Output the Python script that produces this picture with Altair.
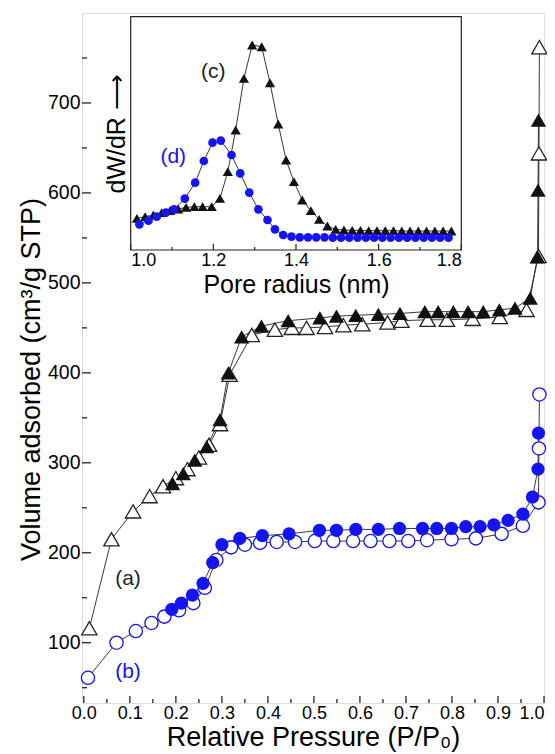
import altair as alt
import pandas as pd

# ---------------- main isotherms ----------------
# (a) open triangles (adsorption)
a_p = [0.012, 0.060, 0.107, 0.143, 0.172, 0.200, 0.225, 0.250, 0.272, 0.296, 0.317, 0.365, 0.415,
       0.452, 0.484, 0.524, 0.564, 0.605, 0.660, 0.690, 0.747, 0.789, 0.845, 0.904, 0.962, 0.988, 0.989, 0.990]
a_v = [116, 215, 246, 263, 274, 283, 293, 306, 320, 343, 398, 442, 448,
       450, 450, 451, 453, 454, 456, 458, 459, 459, 460, 462, 470, 530, 644, 762]
# (a) filled triangles (desorption)
af_p = [0.193, 0.216, 0.241, 0.267, 0.296, 0.314, 0.343, 0.386, 0.444, 0.513, 0.549, 0.591, 0.640,
        0.687, 0.741, 0.770, 0.803, 0.835, 0.868, 0.903, 0.937, 0.970, 0.986, 0.987, 0.988]
af_v = [277, 288, 303, 318, 348, 400, 440, 452, 458, 461, 463, 464, 465,
        466, 468, 468, 468, 468, 468, 470, 472, 483, 529, 603, 681]
# (b) open circles (adsorption)
b_p = [0.009, 0.071, 0.113, 0.147, 0.175, 0.207, 0.238, 0.263, 0.288, 0.320, 0.350, 0.383, 0.419,
       0.459, 0.502, 0.542, 0.585, 0.623, 0.664, 0.705, 0.746, 0.799, 0.852, 0.908, 0.954, 0.988, 0.989, 0.990]
b_v = [61, 100, 113, 122, 129, 136, 144, 161, 192, 206, 209, 211, 212,
       212, 213, 213, 213, 213, 213, 213, 214, 215, 216, 221, 230, 256, 316, 376]
# (b) filled circles (desorption)
bf_p = [0.191, 0.212, 0.236, 0.259, 0.280, 0.300, 0.339, 0.388, 0.446, 0.512, 0.549, 0.591, 0.640,
        0.686, 0.736, 0.767, 0.799, 0.830, 0.861, 0.891, 0.922, 0.954, 0.975, 0.987, 0.988]
bf_v = [137, 144, 153, 166, 189, 209, 216, 219, 221, 225, 225, 226, 226,
        227, 227, 227, 227, 229, 229, 231, 236, 243, 262, 293, 333]

# ---------------- inset: pore size distribution ----------------
c_r = [1.015, 1.035, 1.055, 1.075, 1.095, 1.115, 1.134, 1.154, 1.174, 1.196, 1.216, 1.235, 1.254,
       1.274, 1.294, 1.317, 1.337, 1.357, 1.376, 1.395, 1.415, 1.436, 1.456, 1.476, 1.496, 1.516,
       1.536, 1.556, 1.576, 1.596, 1.616, 1.636, 1.656, 1.676, 1.696, 1.716, 1.736, 1.756, 1.776]
c_w = [95, 100, 105, 112, 118, 123, 128, 130, 130, 130, 155, 235, 360,
       515, 615, 610, 502, 378, 270, 205, 150, 118, 92, 72, 62, 60,
       59, 59, 58, 58, 58, 58, 57, 57, 57, 57, 57, 57, 57]
d_r = [1.021, 1.043, 1.063, 1.085, 1.105, 1.131, 1.156, 1.177, 1.198, 1.218, 1.244, 1.265, 1.287,
       1.309, 1.331, 1.349, 1.369, 1.389, 1.409, 1.429, 1.449, 1.469, 1.489, 1.509, 1.529, 1.549,
       1.569, 1.589, 1.609, 1.629, 1.649, 1.669, 1.689, 1.709, 1.729, 1.749, 1.769]
d_w = [77, 88, 100, 112, 122, 154, 202, 267, 322, 328, 285, 230, 172,
       122, 90, 62, 45, 40, 38, 38, 38, 38, 37, 37, 37, 37,
       37, 37, 37, 37, 37, 37, 37, 37, 37, 37, 37]

# ---------------- ticks / labels ----------------
x_major = [0.0, 0.1, 0.2, 0.3, 0.4, 0.5, 0.6, 0.7, 0.8, 0.9, 1.0]
x_minor = [0.05, 0.15, 0.25, 0.35, 0.45, 0.55, 0.65, 0.75, 0.85, 0.95]
y_major = [100, 200, 300, 400, 500, 600, 700]
y_minor = [50, 150, 250, 350, 450, 550, 650, 750]
in_major = [1.0, 1.2, 1.4, 1.6, 1.8]
in_minor = [1.1, 1.3, 1.5, 1.7]

main_labels = ["(a)", "(b)"]
main_label_p = [0.096, 0.096]
main_label_v = [171, 68]
main_label_col = ["#222222", "#1414f5"]
inset_labels = ["(c)", "(d)"]
inset_label_r = [1.20, 1.103]
inset_label_w = [535, 280]
inset_label_col = ["#222222", "#1414f5"]

BLUE = "#1414f5"
FONT = "Liberation Sans"
W, H = 462, 690
IN_BOTTOM, IN_TOP = 237, 3.7
IN_LEFT, IN_RIGHT = 48.7, 379.3

xs = alt.Scale(domain=[-0.004, 1.0], nice=False, zero=False)
ys = alt.Scale(domain=[33, 800], nice=False, zero=False)
x_axis = alt.Axis(values=x_major, format=".1f", ticks=False, domain=False, grid=False,
                  labelPadding=1, labelFontSize=18, title="Relative Pressure (P/P\u2080)",
                  titleFontSize=27, titlePadding=2, titleFontWeight="normal")
y_axis = alt.Axis(values=y_major, format="d", ticks=False, domain=False, grid=False,
                  labelPadding=2, labelFontSize=19.5, title="Volume adsorbed (cm\u00b3/g STP)",
                  titleFontSize=27, titlePadding=2, titleY=366, titleFontWeight="normal")
X = alt.X("P:Q", scale=xs, axis=x_axis)
Y = alt.Y("V:Q", scale=ys, axis=y_axis)


def frame(p, v):
    return pd.DataFrame({"P": p, "V": v, "i": list(range(len(p)))})


def series(p, v, shape, filled, color, size):
    df = frame(p, v)
    base = alt.Chart(df)
    line = base.mark_line(color="#222222", strokeWidth=0.9).encode(x=X, y=Y, order="i:Q")
    if filled:
        pts = base.mark_point(shape=shape, filled=True, color=color, size=size, opacity=1)
    else:
        pts = base.mark_point(shape=shape, filled=True, fill="white", stroke=color,
                              strokeWidth=1.3, size=size, opacity=1)
    return line, pts.encode(x=X, y=Y)


la, pa = series(a_p, a_v, "triangle-up", False, "#222222", 235)
laf, paf = series(af_p, af_v, "triangle-up", True, "#111111", 235)
lb, pb = series(b_p, b_v, "circle", False, BLUE, 175)
lbf, pbf = series(bf_p, bf_v, "circle", True, BLUE, 175)

xt_major = alt.Chart(pd.DataFrame({"P": x_major})).mark_rule(color="#222222", strokeWidth=1.3).encode(
    x=X, y=alt.value(H), y2=alt.value(H - 7))
xt_minor = alt.Chart(pd.DataFrame({"P": x_minor})).mark_rule(color="#222222", strokeWidth=1.3).encode(
    x=X, y=alt.value(H), y2=alt.value(H - 4))
yt_major = alt.Chart(pd.DataFrame({"V": y_major})).mark_rule(color="#222222", strokeWidth=1.3).encode(
    y=Y, x=alt.value(0), x2=alt.value(9))
yt_minor = alt.Chart(pd.DataFrame({"V": y_minor})).mark_rule(color="#222222", strokeWidth=1.3).encode(
    y=Y, x=alt.value(0), x2=alt.value(5))

main_text = alt.Chart(pd.DataFrame({"P": main_label_p, "V": main_label_v, "t": main_labels,
                                    "c": main_label_col})).mark_text(
    font=FONT, fontSize=21, align="center", baseline="middle").encode(
    x=X, y=Y, text="t:N", color=alt.Color("c:N", scale=None))

main = alt.layer(la, laf, lb, lbf, pa, pb, paf, pbf, xt_major, xt_minor, yt_major, yt_minor, main_text)

# ---------------- inset ----------------
xis = alt.Scale(domain=[1.0, 1.8], range=[IN_LEFT, IN_RIGHT], nice=False, zero=False)
yis = alt.Scale(domain=[0, 700], range=[IN_BOTTOM, IN_TOP], nice=False, zero=False)
xi_axis = alt.Axis(orient="bottom", offset=-(H - IN_BOTTOM), values=in_major, format=".1f",
                   ticks=False, domain=False, grid=False, labelPadding=1, labelFontSize=18,
                   title="Pore radius (nm)", titleFontSize=25, titlePadding=3, titleFontWeight="normal")
yi_axis = alt.Axis(orient="left", offset=-IN_LEFT, labels=False, ticks=False, domain=False, grid=False,
                   title="dW/dR \u27f6", titleFontSize=25, titlePadding=1, titleFontWeight="normal")
XI = alt.X("R:Q", scale=xis, axis=xi_axis)
YI = alt.Y("W:Q", scale=yis, axis=yi_axis)

inset_box = alt.Chart(pd.DataFrame({"R": [1.0], "R2": [1.8], "W": [0], "W2": [700]})).mark_rect(
    fill="white", fillOpacity=1, stroke="#222222", strokeWidth=1.2).encode(
    x=XI, x2="R2:Q", y=YI, y2="W2:Q")

dfc = pd.DataFrame({"R": c_r, "W": c_w, "i": list(range(len(c_r)))})
dfd = pd.DataFrame({"R": d_r, "W": d_w, "i": list(range(len(d_r)))})
lc = alt.Chart(dfc).mark_line(color="#222222", strokeWidth=0.9).encode(x=XI, y=YI, order="i:Q")
pc = alt.Chart(dfc).mark_point(shape="triangle-up", filled=True, color="#111111", size=105, opacity=1).encode(
    x=XI, y=YI)
ld = alt.Chart(dfd).mark_line(color="#222222", strokeWidth=0.9).encode(x=XI, y=YI, order="i:Q")
pd_ = alt.Chart(dfd).mark_point(shape="circle", filled=True, color=BLUE, size=75, opacity=1).encode(
    x=XI, y=YI)

it_major = alt.Chart(pd.DataFrame({"R": in_major})).mark_rule(color="#222222", strokeWidth=1.2).encode(
    x=XI, y=alt.value(IN_BOTTOM), y2=alt.value(IN_BOTTOM - 6))
it_minor = alt.Chart(pd.DataFrame({"R": in_minor})).mark_rule(color="#222222", strokeWidth=1.2).encode(
    x=XI, y=alt.value(IN_BOTTOM), y2=alt.value(IN_BOTTOM - 3))

inset_text = alt.Chart(pd.DataFrame({"R": inset_label_r, "W": inset_label_w, "t": inset_labels,
                                     "c": inset_label_col})).mark_text(
    font=FONT, fontSize=21, align="center", baseline="middle").encode(
    x=XI, y=YI, text="t:N", color=alt.Color("c:N", scale=None))

inset = alt.layer(inset_box, lc, ld, pc, pd_, it_major, it_minor, inset_text)

chart = alt.layer(main, inset).resolve_scale(x="independent", y="independent").properties(
    width=W, height=H,
    autosize=alt.AutoSizeParams(type="none"),
    padding={"left": 74, "top": 5, "right": 3, "bottom": 51},
).configure_view(stroke="#222222", strokeWidth=1.6).configure_axis(
    labelFont=FONT, titleFont=FONT, labelColor="#222222", titleColor="#222222"
).configure(background="white")

chart.save("out.html", embed_options={"renderer": "svg", "actions": False})
